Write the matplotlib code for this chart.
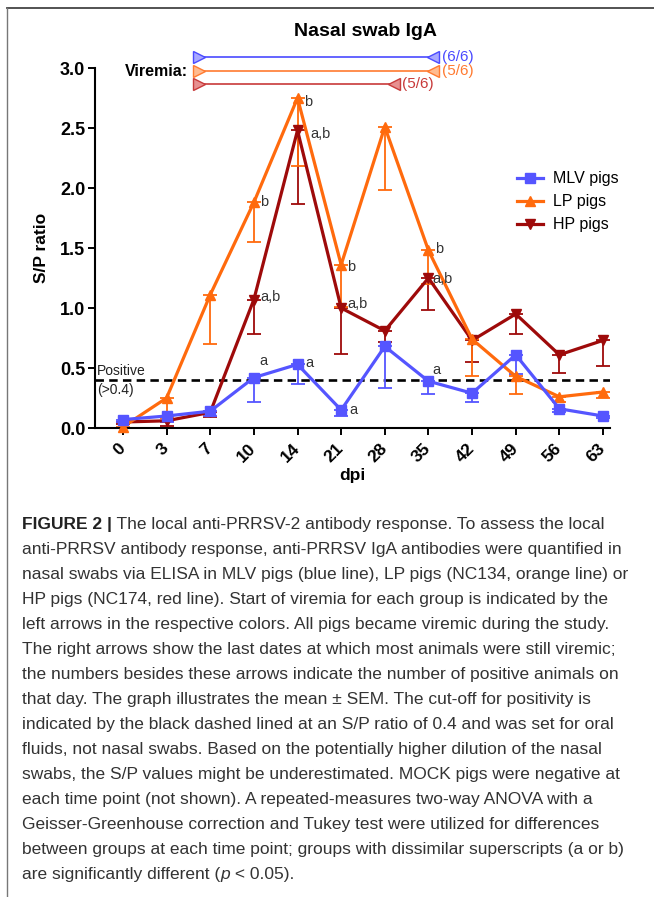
import numpy as np
import matplotlib
matplotlib.use("Agg")
import matplotlib.pyplot as plt
from matplotlib.lines import Line2D

plt.rcParams['font.family'] = ['Liberation Sans', 'DejaVu Sans']

# ---- data ----
dpi = [0, 3, 7, 10, 14, 21, 28, 35, 42, 49, 56, 63]

mlv_mean = [0.07, 0.10, 0.14, 0.42, 0.53, 0.15, 0.68, 0.39, 0.29, 0.61, 0.16, 0.10]
mlv_sem = [0.02, 0.05, 0.04, 0.20, 0.16, 0.05, 0.35, 0.11, 0.07, 0.16, 0.03, 0.02]

lp_mean = [0.01, 0.25, 1.11, 1.88, 2.75, 1.36, 2.51, 1.48, 0.74, 0.43, 0.26, 0.30]
lp_sem = [0.01, 0.17, 0.41, 0.33, 0.57, 0.35, 0.53, 0.28, 0.31, 0.15, 0.04, 0.05]

hp_mean = [0.05, 0.06, 0.13, 1.07, 2.48, 1.00, 0.81, 1.25, 0.73, 0.95, 0.61, 0.73]
hp_sem = [0.02, 0.04, 0.04, 0.29, 0.61, 0.38, 0.09, 0.27, 0.18, 0.17, 0.15, 0.21]

# significance letters: (index, text, dx, dy)
mlv_letters = [(3, 'a', 0.12, 0.14), (4, 'a', 0.18, 0.01), (5, 'a', 0.18, 0.0), (7, 'a', 0.08, 0.09)]
lp_letters = [(3, 'b', 0.14, 0.0), (4, 'b', 0.16, -0.03), (5, 'b', 0.14, -0.02), (7, 'b', 0.14, 0.01)]
hp_letters = [(3, 'a,b', 0.15, 0.02), (4, 'a,b', 0.3, -0.03), (5, 'a,b', 0.14, 0.03), (7, 'a,b', 0.1, -0.01)]

# viremia period (dpi) and positives at the end
vir_start = [6, 6, 6]
vir_end = [35.8, 35.8, 29.4]
vir_level = [3.09, 2.975, 2.865]
vir_count = ['(6/6)', '(5/6)', '(5/6)']

threshold = 0.4

blue = '#5555ff'
orange = '#ff6a0d'
red = '#9e0a0a'

W, H = 654, 897
fig = plt.figure(figsize=(W / 100, H / 100), dpi=100)
ax = fig.add_axes([95 / W, 1 - 428 / H, (610 - 95) / W, 360 / H])

x = np.arange(len(dpi))

ax.axhline(threshold, color='black', ls=(0, (3.2, 2.0)), lw=1.9, zorder=1.5)

for mean, sem, col, mk, ms, lab in [
        (hp_mean, hp_sem, red, 'v', 7.5, 'HP pigs'),
        (lp_mean, lp_sem, orange, '^', 7.5, 'LP pigs'),
        (mlv_mean, mlv_sem, blue, 's', 7.5, 'MLV pigs')]:
    ax.errorbar(x, mean, yerr=[sem, np.zeros(len(sem))], fmt='none', ecolor=col,
                elinewidth=1.3, capsize=5, capthick=1.3, clip_on=False, zorder=2)
    ax.plot(x, mean, color=col, lw=2.3, marker=mk, ms=ms, mec=col, mfc=col,
            clip_on=False, zorder=3, label=lab)

for series, letters in [(mlv_mean, mlv_letters), (lp_mean, lp_letters), (hp_mean, hp_letters)]:
    for i, txt, dx, dy in letters:
        ax.text(i + dx, series[i] + dy, txt, fontsize=10.5, color='#333333',
                ha='left', va='center', zorder=4)

ax.text(-0.6, 0.475, 'Positive', fontsize=10, color='#222222', ha='left', va='center')
ax.text(-0.6, 0.32, '(>0.4)', fontsize=10, color='#222222', ha='left', va='center')

# viremia arrows
vcols = [('#4a4aff', '#a8a8ff'), ('#ff7a30', '#ffbb90'), ('#c83a3a', '#e79090')]
vs = np.interp(vir_start, dpi, x)
ve = np.interp(vir_end, dpi, x)
for s, e, lvl, cnt, (ec, fc) in zip(vs, ve, vir_level, vir_count, vcols):
    ax.plot([s, e], [lvl, lvl], color=ec, lw=1.2, clip_on=False, zorder=3)
    ax.plot([s], [lvl], marker='>', ms=9, mfc=fc, mec=ec, mew=1.0, clip_on=False, zorder=4)
    ax.plot([e], [lvl], marker='<', ms=9, mfc=fc, mec=ec, mew=1.0, clip_on=False, zorder=4)
    ax.text(e + 0.2, lvl, cnt, color=ec, fontsize=11, ha='left', va='center')
ax.text(1.48, vir_level[1], 'Viremia:', fontsize=11.5, fontweight='bold', ha='right', va='center')

ax.set_xlim(-0.64, 11.16)
ax.set_ylim(0, 3.0)
ax.set_yticks(np.arange(0, 3.01, 0.5))
ax.set_yticklabels(['%.1f' % v for v in np.arange(0, 3.01, 0.5)], fontsize=13, fontweight='bold')
ax.set_xticks(x)
ax.set_xticklabels([str(d) for d in dpi], fontsize=12.5, fontweight='bold', rotation=45,
                   ha='right', va='center', rotation_mode='anchor')
ax.tick_params(axis='x', length=5, width=1.4, pad=8)
ax.tick_params(axis='y', length=5, width=1.4, pad=2)
for side in ['top', 'right']:
    ax.spines[side].set_visible(False)
for side in ['left', 'bottom']:
    ax.spines[side].set_linewidth(1.5)

ax.set_xlabel('dpi', fontsize=12.5, fontweight='bold', labelpad=2)
ax.set_ylabel('S/P ratio', fontsize=12.5, fontweight='bold', labelpad=8)

handles, labels = ax.get_legend_handles_labels()
order = [2, 1, 0]
ax.legend([handles[i] for i in order], [labels[i] for i in order],
          loc='upper left', bbox_to_anchor=(503 / W, 1 - 157 / H), bbox_transform=fig.transFigure,
          frameon=False, fontsize=11.5, handlelength=1.6, handletextpad=0.6, labelspacing=0.5)

fig.text(365 / W, 1 - 32 / H, 'Nasal swab IgA', fontsize=14, fontweight='bold',
         ha='center', va='center')

# frame lines
fig.add_artist(Line2D([7 / W, 1], [1 - 8 / H, 1 - 8 / H], color='#444444', lw=1.3))
fig.add_artist(Line2D([7 / W, 7 / W], [0, 1 - 8 / H], color='#777777', lw=1.0))

# caption
caption = [
    [('FIGURE 2 |', 'bold'), (' The local anti-PRRSV-2 antibody response. To assess the local', 'normal')],
    [('anti-PRRSV antibody response, anti-PRRSV IgA antibodies were quantified in', 'normal')],
    [('nasal swabs via ELISA in MLV pigs (blue line), LP pigs (NC134, orange line) or', 'normal')],
    [('HP pigs (NC174, red line). Start of viremia for each group is indicated by the', 'normal')],
    [('left arrows in the respective colors. All pigs became viremic during the study.', 'normal')],
    [('The right arrows show the last dates at which most animals were still viremic;', 'normal')],
    [('the numbers besides these arrows indicate the number of positive animals on', 'normal')],
    [('that day. The graph illustrates the mean \u00b1 SEM. The cut-off for positivity is', 'normal')],
    [('indicated by the black dashed lined at an S/P ratio of 0.4 and was set for oral', 'normal')],
    [('fluids, not nasal swabs. Based on the potentially higher dilution of the nasal', 'normal')],
    [('swabs, the S/P values might be underestimated. MOCK pigs were negative at', 'normal')],
    [('each time point (not shown). A repeated-measures two-way ANOVA with a', 'normal')],
    [('Geisser-Greenhouse correction and Tukey test were utilized for differences', 'normal')],
    [('between groups at each time point; groups with dissimilar superscripts (a or b)', 'normal')],
    [('are significantly different (', 'normal'), ('p', 'italic'), (' < 0.05).', 'normal')],
]

renderer = fig.canvas.get_renderer()
probe = fig.text(0, 0, caption[2][0][0], fontsize=10)
cap_fs = 10 * 606 / probe.get_window_extent(renderer).width
probe.remove()

y0, dy = 524, 25
for k, parts in enumerate(caption):
    xp = 22
    for txt, style in parts:
        kw = dict(fontsize=cap_fs, color='#333333', ha='left', va='center')
        if style == 'bold':
            kw.update(fontweight='bold', color='#222222')
        elif style == 'italic':
            kw.update(fontstyle='italic')
        t = fig.text(xp / W, 1 - (y0 + k * dy) / H, txt, **kw)
        xp += t.get_window_extent(renderer).width

fig.savefig('out.png', dpi=100)
